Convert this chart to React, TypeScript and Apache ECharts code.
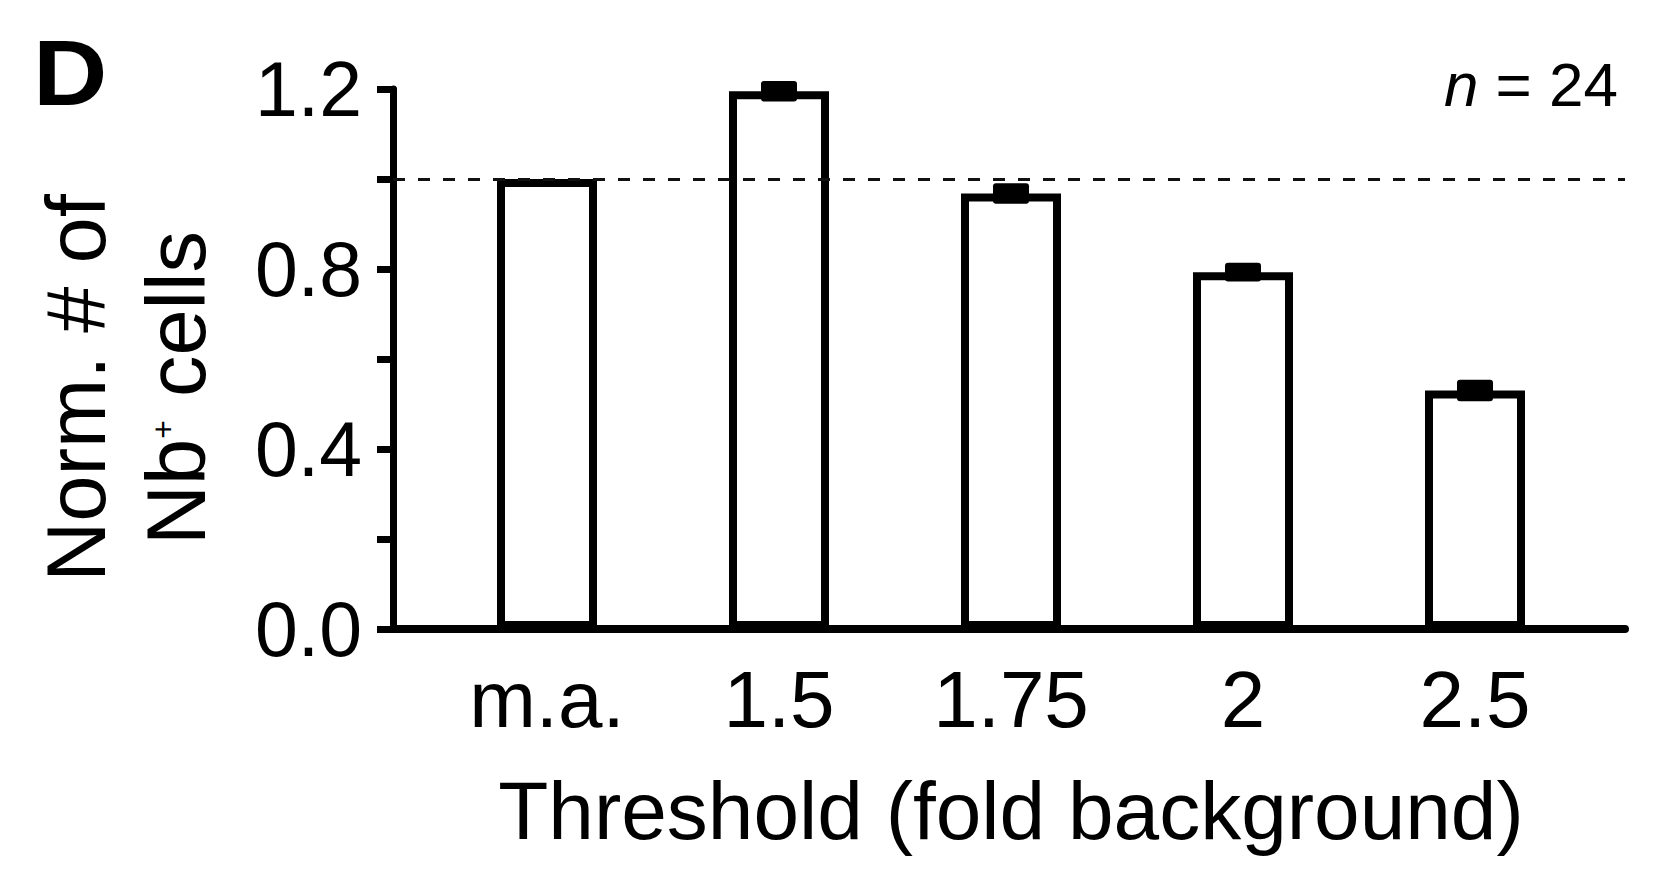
import React, { useEffect, useRef } from 'react';
import * as echarts from 'echarts';

const FONT = '"Liberation Sans", Arial, Helvetica, sans-serif';

const categories = ['m.a.', '1.5', '1.75', '2', '2.5'];
const values = [1.0, 1.195, 0.968, 0.793, 0.53];
const errors = [0, 0.015, 0.015, 0.013, 0.016];
const yMin = 0;
const yMax = 1.2;
const yInterval = 0.4;
const refLine = 1.0;
const panelLabel = 'D';
const nText = '{i|n} = 24';
const xTitle = 'Threshold (fold background)';
const yTitle = 'Norm. # of\nNb{sup|+} cells';

export default function App() {
  const ref = useRef<HTMLDivElement>(null);
  useEffect(() => {
    document.body.style.margin = '0';
    const chart = echarts.init(ref.current as HTMLDivElement, null, { renderer: 'svg' });
    const option: any = {
      animation: false,
      backgroundColor: '#ffffff',
      grid: [
        { left: 431, right: 68, top: 89, bottom: 262 },
        { left: 393, right: 34, top: 89, bottom: 262 },
      ],
      xAxis: [
        {
          type: 'category',
          gridIndex: 0,
          data: categories,
          axisLine: { show: false },
          axisTick: { show: false },
          axisLabel: { fontSize: 80, color: '#000', fontFamily: FONT, margin: 30 },
          name: xTitle,
          nameLocation: 'middle',
          nameGap: 140,
          nameTextStyle: { fontSize: 82, color: '#000', fontFamily: FONT },
        },
        {
          type: 'value',
          gridIndex: 1,
          min: 0,
          max: 1,
          axisLine: { show: true, onZero: false, lineStyle: { color: '#000', width: 8 } },
          axisTick: { show: false },
          axisLabel: { show: false },
          splitLine: { show: false },
        },
      ],
      yAxis: [
        { type: 'value', gridIndex: 0, min: yMin, max: yMax, show: false, splitLine: { show: false } },
        {
          type: 'value',
          gridIndex: 1,
          min: yMin,
          max: yMax,
          interval: yInterval,
          axisLine: { show: true, lineStyle: { color: '#000', width: 7 } },
          axisTick: { show: true, length: 16, lineStyle: { color: '#000', width: 7 } },
          minorTick: { show: true, splitNumber: 2, length: 16, lineStyle: { color: '#000', width: 7 } },
          splitLine: { show: false },
          minorSplitLine: { show: false },
          axisLabel: {
            fontSize: 77,
            color: '#000',
            fontFamily: FONT,
            margin: 31,
            formatter: (v: number) => v.toFixed(1),
          },
        },
      ],
      series: [
        {
          type: 'line',
          xAxisIndex: 1,
          yAxisIndex: 1,
          data: [],
          z: 1,
          markLine: {
            silent: true,
            symbol: 'none',
            label: { show: false },
            lineStyle: { color: '#111', width: 3, type: [12, 13] },
            data: [{ yAxis: refLine }],
          },
        },
        {
          type: 'bar',
          xAxisIndex: 0,
          yAxisIndex: 0,
          data: values,
          barWidth: 100,
          itemStyle: { color: '#fff', borderColor: '#000', borderWidth: 8 },
          z: 3,
        },
        {
          type: 'custom',
          xAxisIndex: 0,
          yAxisIndex: 0,
          z: 4,
          encode: { x: 0, y: [1, 2] },
          data: values.map((v, i) => [i, v - errors[i], v + errors[i]]),
          renderItem: (params: any, api: any) => {
            const idx = api.value(0);
            const lo = api.value(1);
            const hi = api.value(2);
            if (hi - lo <= 0) return null;
            const pLo = api.coord([idx, lo]);
            const pHi = api.coord([idx, hi]);
            const x = pLo[0];
            const half = 18;
            const cap = 3.5;
            return {
              type: 'rect',
              shape: { x: x - half, y: pHi[1] - cap, width: half * 2, height: pLo[1] - pHi[1] + cap * 2, r: 3 },
              style: { fill: '#000' },
            };
          },
        },
      ],
      graphic: [
        {
          type: 'text',
          x: 33,
          y: 73,
          scaleX: 1.12,
          style: {
            text: panelLabel,
            fontSize: 92,
            fontWeight: 'bold',
            fontFamily: FONT,
            fill: '#000',
            align: 'left',
            verticalAlign: 'middle',
          },
        },
        {
          type: 'text',
          x: 1618,
          y: 84,
          style: {
            text: nText,
            fontSize: 62,
            fontFamily: FONT,
            fill: '#000',
            align: 'right',
            verticalAlign: 'middle',
            rich: {
              i: { fontSize: 62, fontFamily: FONT, fontStyle: 'italic', fill: '#000' },
            },
          },
        },
        {
          type: 'text',
          x: 126,
          y: 388,
          rotation: Math.PI / 2,
          style: {
            text: yTitle,
            fontSize: 83,
            lineHeight: 100,
            fontFamily: FONT,
            fill: '#000',
            align: 'center',
            verticalAlign: 'middle',
            rich: {
              sup: {
                fontSize: 32,
                verticalAlign: 'middle',
                padding: [0, 0, 26, 0],
                fontFamily: FONT,
                fill: '#000',
              },
            },
          },
        },
      ],
    };
    chart.setOption(option);
    return () => chart.dispose();
  }, []);
  return <div ref={ref} style={{ width: 1659, height: 891 }} />;
}
